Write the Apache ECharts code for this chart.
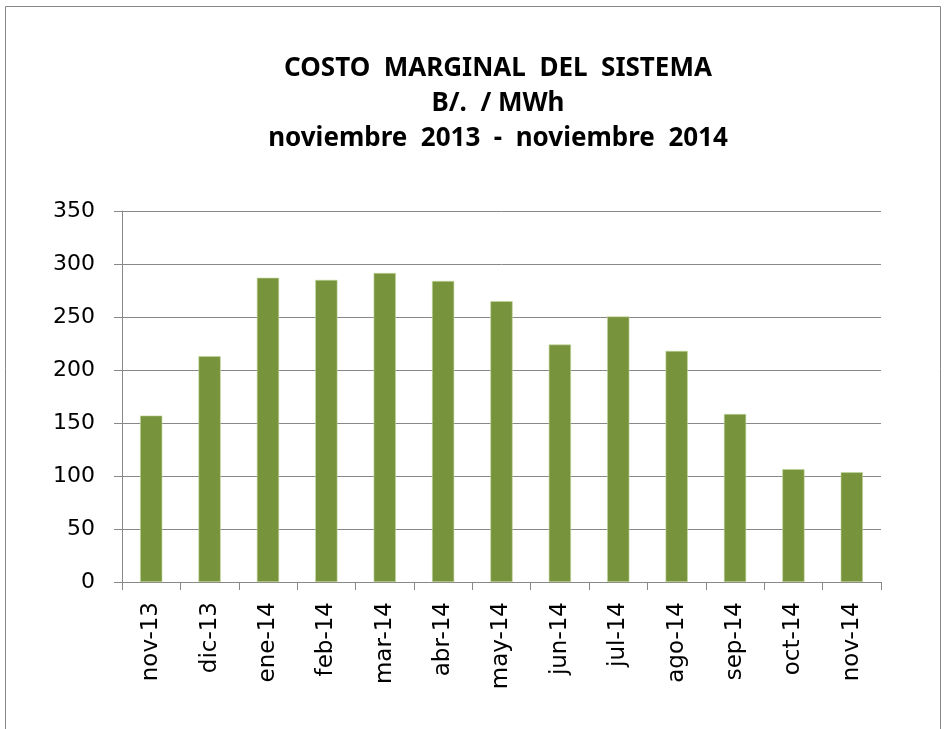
<!DOCTYPE html>
<html><head><meta charset="utf-8">
<script src="https://cdn.jsdelivr.net/npm/echarts@6/dist/echarts.min.js"></script>
<style>html,body{margin:0;padding:0;background:#fff}#c{width:945px;height:729px}</style>
</head><body><div id="c"></div>
<script>
const categories = ['nov-13','dic-13','ene-14','feb-14','mar-14','abr-14','may-14','jun-14','jul-14','ago-14','sep-14','oct-14','nov-14'];
const costo = [157, 213, 287, 285, 291.5, 284, 265, 224, 250.5, 218, 158.5, 106.5, 103.5];
const yTicks = [0, 50, 100, 150, 200, 250, 300, 350];
const titleLines = ['COSTO  MARGINAL  DEL  SISTEMA', 'B/.  / MWh', 'noviembre  2013  -  noviembre  2014'];

const chart = echarts.init(document.getElementById('c'));
chart.setOption({
  animation: false,
  backgroundColor: '#fff',
  graphic: [{
    type: 'rect', shape: {x: 5.5, y: 6.5, width: 935, height: 740},
    style: {fill: 'none', stroke: '#888', lineWidth: 1}, silent: true
  }],
  title: {
    text: titleLines.join('\n'),
    left: 493, top: 46, textAlign: 'center',
    textStyle: {fontFamily: 'Noto Sans', fontWeight: 'bold', fontSize: 26, lineHeight: 35, color: '#000'}
  },
  grid: {left: 122, right: 64, top: 211, bottom: 147, containLabel: false},
  xAxis: {
    type: 'category', data: categories,
    axisLine: {lineStyle: {color: '#888', width: 1}},
    axisTick: {show: true, alignWithLabel: false, length: 8, lineStyle: {color: '#888'}},
    axisLabel: {rotate: 90, fontFamily: 'DejaVu Sans', fontSize: 23, color: '#000', margin: 20}
  },
  yAxis: {
    type: 'value', min: 0, max: 350, interval: 50,
    axisLine: {show: true, lineStyle: {color: '#888'}},
    axisTick: {show: true, length: 8, lineStyle: {color: '#888'}},
    axisLabel: {fontFamily: 'DejaVu Sans', fontSize: 22, color: '#000', margin: 27,
      formatter: v => yTicks.includes(v) ? String(v) : ''},
    splitLine: {lineStyle: {color: '#888', width: 1}}
  },
  series: [{
    type: 'bar', data: costo, barWidth: '38%',
    itemStyle: {color: '#77933C', borderColor: '#C3D69B', borderWidth: 0.6}
  }]
});
</script></body></html>
